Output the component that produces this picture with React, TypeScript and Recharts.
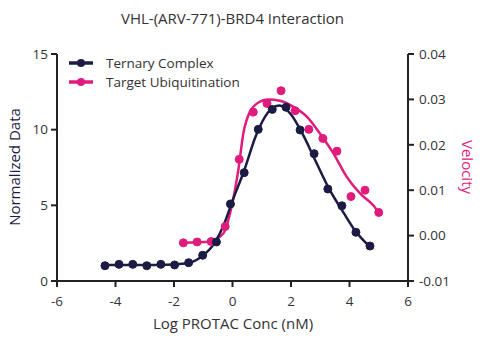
import React from "react";
import { ComposedChart, Line, XAxis, YAxis } from "recharts";

const NAVY = "#1b1b44";
const PINK = "#e11b7c";
const AXIS = "#222222";
const FONT = "'Open Sans', sans-serif";

// log PROTAC conc (nM)
const ternaryX = [-4.36, -3.88, -3.41, -2.93, -2.45, -1.98, -1.5, -1.02, -0.55, -0.07, 0.4, 0.88, 1.36, 1.83, 2.31, 2.79, 3.26, 3.74, 4.22, 4.7];
const ternaryY = [1.01, 1.1, 1.1, 1.01, 1.1, 1.06, 1.21, 1.7, 2.58, 5.09, 7.16, 10.02, 11.34, 11.48, 9.98, 8.41, 6.08, 4.97, 3.22, 2.31];

const ubiqX = [-1.68, -1.21, -0.73, -0.25, 0.23, 0.71, 1.18, 1.66, 2.14, 2.61, 3.09, 3.57, 4.05, 4.53, 5.0];
const ubiqV = [-0.0016, -0.0014, -0.0013, 0.002, 0.0168, 0.0272, 0.0291, 0.0319, 0.0275, 0.0234, 0.0214, 0.0186, 0.0086, 0.01, 0.0051];

// fitted curves
const ternaryFitX = [-4.36, -2.5, -1.6, -1.1, -0.6, -0.3, 0.0, 0.4, 0.8, 1.2, 1.6, 2.0, 2.4, 2.8, 3.3, 3.8, 4.2, 4.7];
const ternaryFitY = [1.05, 1.06, 1.15, 1.55, 2.55, 3.7, 5.3, 7.3, 9.6, 11.1, 11.6, 11.0, 9.7, 8.1, 6.1, 4.5, 3.3, 2.25];

const ubiqFitX = [-1.68, -0.77, -0.31, -0.03, 0.2, 0.37, 0.6, 0.94, 1.22, 1.62, 2.07, 2.54, 2.99, 3.45, 3.9, 4.36, 4.81, 5.01];
const ubiqFitV = [-0.0016, -0.0013, 0.0005, 0.0064, 0.0145, 0.0225, 0.0273, 0.0295, 0.03, 0.0297, 0.0284, 0.0262, 0.0225, 0.0181, 0.013, 0.0093, 0.0067, 0.005];

const xTicks = [-6, -4, -2, 0, 2, 4, 6];
const leftTicks = [0, 5, 10, 15];
const rightTicks = [-0.01, 0, 0.01, 0.02, 0.03, 0.04];

const ternaryData = ternaryX.map((x, i) => ({ x, y: ternaryY[i] }));
const ternaryFit = ternaryFitX.map((x, i) => ({ x, y: ternaryFitY[i] }));
const ubiqData = ubiqX.map((x, i) => ({ x, v: ubiqV[i] }));
const ubiqFit = ubiqFitX.map((x, i) => ({ x, v: ubiqFitV[i] }));

const legendItems = [
  { name: "Ternary Complex", color: NAVY },
  { name: "Target Ubiquitination", color: PINK },
];

const LegendBox = () => (
  <div
    style={{
      position: "absolute",
      left: 68,
      top: 53,
      fontFamily: FONT,
      fontSize: 13.5,
      color: "#333",
    }}
  >
    {legendItems.map((it) => (
      <div key={it.name} style={{ display: "flex", alignItems: "center", height: 19 }}>
        <svg width={26} height={10} style={{ marginRight: 12 }}>
          <line x1={1} y1={5} x2={25} y2={5} stroke={it.color} strokeWidth={3.5} />
          <circle cx={13} cy={5} r={4} fill={it.color} />
        </svg>
        <span>{it.name}</span>
      </div>
    ))}
  </div>
);

const tickStyle = { fill: "#333", fontSize: 13.5, fontFamily: FONT };

const App = () => {
  return (
    <div style={{ position: "absolute", left: 0, top: 0, width: 487, height: 340, background: "#fff" }}>
      <div
        style={{
          position: "absolute",
          top: 8,
          left: 57,
          width: 351,
          textAlign: "center",
          fontFamily: FONT,
          fontSize: 15,
          color: "#333",
        }}
      >
        VHL-(ARV-771)-BRD4 Interaction
      </div>
      <ComposedChart
        width={487}
        height={340}
        margin={{ top: 54, right: 0, bottom: 0, left: 0 }}
      >
        <XAxis
          type="number"
          dataKey="x"
          domain={[-6, 6]}
          ticks={xTicks}
          allowDataOverflow
          height={59}
          stroke={AXIS}
          strokeWidth={2}
          tickSize={6}
          tickMargin={9}
          tick={tickStyle}
          label={() => (
            <text x={233} y={323} textAnchor="middle" dominantBaseline="central" fill="#333" fontSize={15} fontFamily={FONT}>
              Log PROTAC Conc (nM)
            </text>
          )}
        />
        <YAxis
          yAxisId="l"
          dataKey="y"
          domain={[0, 15]}
          ticks={leftTicks}
          allowDataOverflow
          width={57}
          stroke={AXIS}
          strokeWidth={2}
          tickSize={6}
          tickMargin={3}
          tick={tickStyle}
          label={() => (
            <text x={14} y={167} transform="rotate(-90 14 167)" textAnchor="middle" dominantBaseline="central" fill={NAVY} fontSize={15} fontFamily={FONT}>
              Normalized Data
            </text>
          )}
        />
        <YAxis
          yAxisId="r"
          orientation="right"
          dataKey="v"
          domain={[-0.01, 0.04]}
          ticks={rightTicks}
          tickFormatter={(v: number) => v.toFixed(2)}
          allowDataOverflow
          width={79}
          stroke={AXIS}
          strokeWidth={2}
          tickSize={6}
          tickMargin={5}
          tick={tickStyle}
          label={() => (
            <text x={468} y={167} transform="rotate(90 468 167)" textAnchor="middle" dominantBaseline="central" fill={PINK} fontSize={15} fontFamily={FONT}>
              Velocity
            </text>
          )}
        />
        <Line
          yAxisId="r"
          data={ubiqFit}
          dataKey="v"
          type="monotone"
          stroke={PINK}
          strokeWidth={2.5}
          dot={false}
          activeDot={false}
          isAnimationActive={false}
        />
        <Line
          yAxisId="r"
          data={ubiqData}
          dataKey="v"
          stroke="none"
          dot={{ r: 4, fill: PINK, stroke: PINK, strokeWidth: 1 }}
          activeDot={false}
          isAnimationActive={false}
        />
        <Line
          yAxisId="l"
          data={ternaryFit}
          dataKey="y"
          type="monotone"
          stroke={NAVY}
          strokeWidth={2.5}
          dot={false}
          activeDot={false}
          isAnimationActive={false}
        />
        <Line
          yAxisId="l"
          data={ternaryData}
          dataKey="y"
          stroke="none"
          dot={{ r: 4, fill: NAVY, stroke: NAVY, strokeWidth: 1 }}
          activeDot={false}
          isAnimationActive={false}
        />
      </ComposedChart>
      <LegendBox />
    </div>
  );
};

export default App;
